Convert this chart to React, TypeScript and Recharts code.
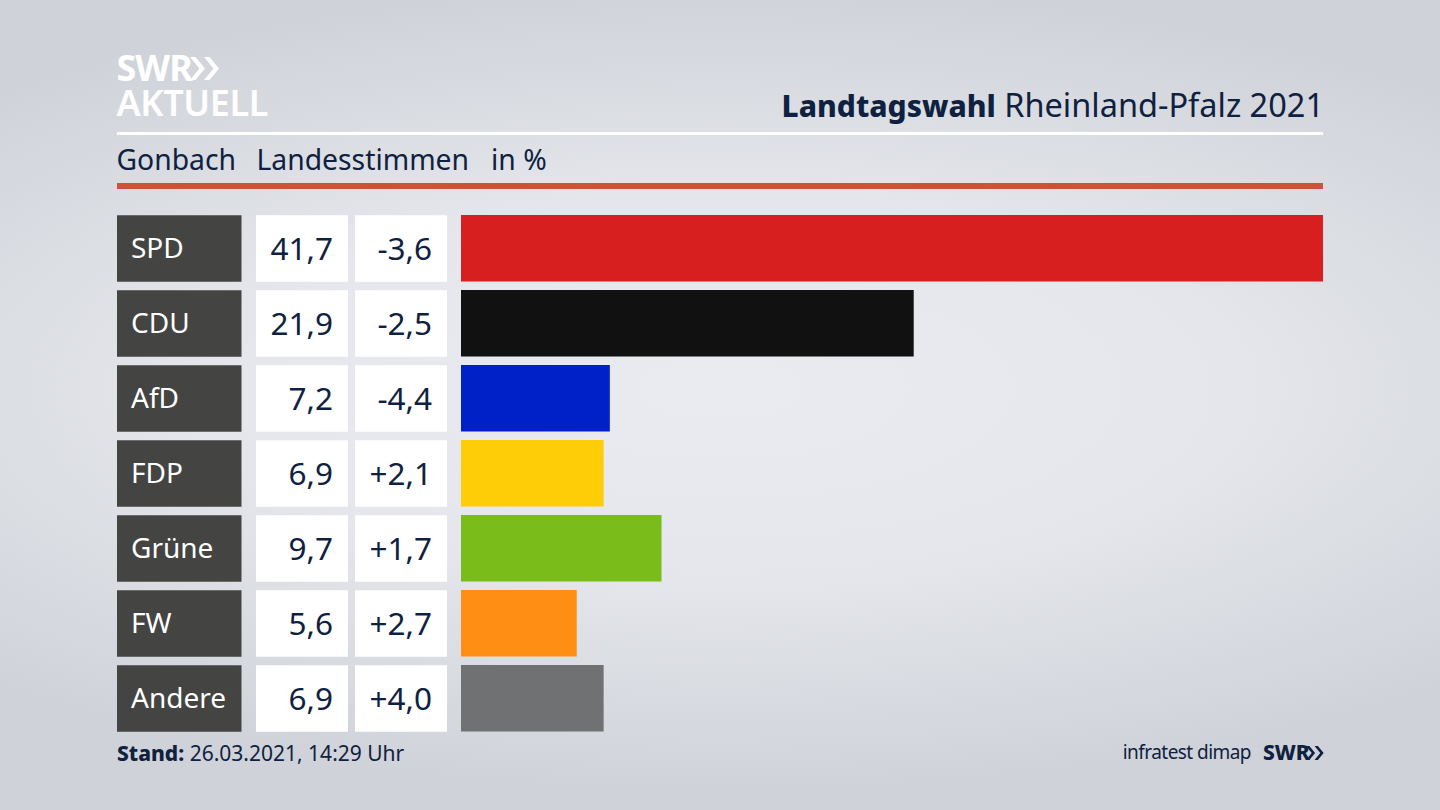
import React from "react";
import { BarChart, Bar, XAxis, YAxis, Cell } from "recharts";

const parties = ["SPD", "CDU", "AfD", "FDP", "Grüne", "FW", "Andere"];
const shares = [41.7, 21.9, 7.2, 6.9, 9.7, 5.6, 6.9];
const changes = ["-3,6", "-2,5", "-4,4", "+2,1", "+1,7", "+2,7", "+4,0"];
const shareLabels = ["41,7", "21,9", "7,2", "6,9", "9,7", "5,6", "6,9"];
const colors = ["#d81f1f", "#111111", "#0021c8", "#ffcd07", "#7abc19", "#ff8f14", "#707173"];

const rows = parties.map((party, i) => ({ party, share: shares[i] }));

const FONT = "'Noto Sans', sans-serif";
const INK = "#0f2140";
const CELL_H = 66.5;

function RowTick(props: any) {
  const { y, payload, index } = props;
  const top = y - CELL_H / 2;
  const base = y + 11;
  return (
    <g fontFamily={FONT} fontSize={31.5}>
      <rect x={117} y={top} width={124.5} height={CELL_H} fill="#444442" />
      <text x={131} y={y + 9.5} fill="#ffffff" fontSize={28}>{payload.value}</text>
      <rect x={256} y={top} width={92} height={CELL_H} fill="#ffffff" />
      <text x={333} y={base} fill={INK} textAnchor="end">{shareLabels[index]}</text>
      <rect x={355} y={top} width={92} height={CELL_H} fill="#ffffff" />
      <text x={432} y={base} fill={INK} textAnchor="end">{changes[index]}</text>
    </g>
  );
}

function Chevrons({ x, y, h, color }: { x: number; y: number; h: number; color: string }) {
  const w = h * 0.41;
  const t = h * 0.24;
  const off = h * 0.61;
  const pts = (o: number) =>
    `${o},0 ${o + t},0 ${o + t + w},${h / 2} ${o + t},${h} ${o},${h} ${o + w},${h / 2}`;
  return (
    <svg style={{ position: "absolute", left: x, top: y, overflow: "visible" }} width={off + t + w} height={h}>
      <polygon points={pts(0)} fill={color} />
      <polygon points={pts(off)} fill={color} />
    </svg>
  );
}

function Label({ x, y, right, size, color = INK, weight = 400, spacing = 0, children }: any) {
  const style: React.CSSProperties = {
    position: "absolute",
    top: y,
    fontFamily: FONT,
    fontSize: size,
    lineHeight: 1,
    fontWeight: weight,
    letterSpacing: spacing,
    color,
    whiteSpace: "nowrap",
  };
  if (right !== undefined) style.right = right;
  else style.left = x;
  return <div style={style}>{children}</div>;
}

export default function App() {
  return (
    <div
      style={{
        position: "absolute",
        left: 0,
        top: 0,
        width: 1440,
        height: 810,
        overflow: "hidden",
        background: "radial-gradient(ellipse 75% 50% at 50% 48%, #e9ebf0 0%, #e5e7ec 45%, #cfd2d8 100%)",
      }}
    >
      <div
        style={{
          position: "absolute",
          left: 116.5,
          top: 50,
          fontFamily: FONT,
          fontSize: 36,
          lineHeight: "35px",
          color: "#ffffff",
          whiteSpace: "nowrap",
        }}
      >
        <span style={{ fontWeight: 700, letterSpacing: -1 }}>SWR</span>
        <br />
        <span style={{ fontWeight: 600, letterSpacing: -0.4 }}>AKTUELL</span>
      </div>
      <Chevrons x={190} y={57} h={23} color="#ffffff" />
      <Label right={116} y={89} size={32.5}>
        <span style={{ fontWeight: 800, fontSize: 30 }}>Landtagswahl</span> Rheinland-Pfalz 2021
      </Label>
      <div style={{ position: "absolute", left: 117, top: 132, width: 1206, height: 3, background: "#ffffff" }} />
      <Label x={116.5} y={145} size={28.3}>Gonbach</Label>
      <Label x={256.5} y={145} size={28.3}>Landesstimmen</Label>
      <Label x={491} y={145} size={28.3}>in %</Label>
      <div style={{ position: "absolute", left: 117, top: 183, width: 1206, height: 6, background: "#cd523c" }} />

      <div style={{ position: "absolute", left: 0, top: 0 }}>
        <BarChart
          width={1440}
          height={810}
          data={rows}
          layout="vertical"
          barSize={66.5}
          margin={{ top: 211, bottom: 74, left: 117, right: 117 }}
        >
          <XAxis type="number" hide domain={[0, 41.7]} />
          <YAxis
            type="category"
            dataKey="party"
            width={344}
            axisLine={false}
            tickLine={false}
            interval={0}
            tick={<RowTick />}
          />
          <Bar dataKey="share" isAnimationActive={false}>
            {rows.map((r, i) => (
              <Cell key={r.party} fill={colors[i]} />
            ))}
          </Bar>
        </BarChart>
      </div>

      <Label x={117} y={743} size={21}>
        <span style={{ fontWeight: 800 }}>Stand:</span> 26.03.2021, 14:29 Uhr
      </Label>
      <Label right={189} y={743} size={19} spacing={-0.55}>infratest dimap</Label>
      <Label x={1263} y={742} size={21} weight={800}>SWR</Label>
      <Chevrons x={1306} y={746} h={14} color={INK} />
    </div>
  );
}
